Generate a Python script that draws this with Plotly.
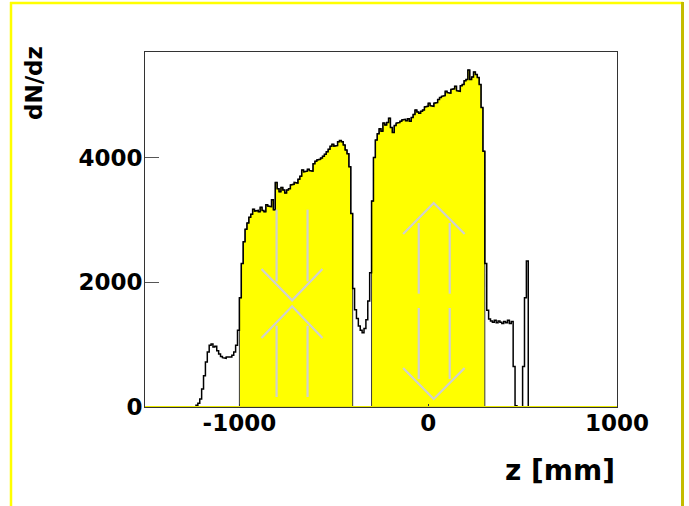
import plotly.graph_objects as go

# ---------------- data ----------------
BIN_START = -1250          # left edge of first bin [mm]
BIN_WIDTH = 10             # bin width [mm]
COUNTS = [
    # -1250 .. -1010
    0, 0, 30, 60, 130, 290, 500, 720, 880, 990,
    1010, 960, 975, 900, 850, 810, 790, 780, 800, 790,
    800, 830, 880, 990, 1230,
    # -1000 .. -410
    1750, 2300, 2650, 2850, 2950, 3040, 3090, 3170, 3140, 3150,
    3130, 3200, 3150, 3130, 3240, 3220, 3210, 3320, 3160, 3600,
    3500, 3450, 3520, 3480, 3430, 3480, 3500, 3560, 3570, 3600,
    3590, 3650, 3700, 3800, 3770, 3780, 3810, 3790, 3780, 3900,
    3940, 3960, 3970, 3990, 4020, 4050, 4090, 4130, 4180, 4210,
    4180, 4190, 4250, 4270, 4250, 4200, 4120, 4060, 3850, 3100,
    # -400 .. -310
    1900, 1560, 1420, 1300, 1230, 1190, 1260, 1400, 1700, 2150,
    # -300 .. 290
    3300, 4000, 4280, 4380, 4460, 4420, 4550, 4520, 4560, 4630,
    4480, 4400, 4510, 4550, 4560, 4580, 4600, 4610, 4590, 4620,
    4580, 4640, 4690, 4760, 4730, 4710, 4740, 4760, 4810, 4820,
    4870, 4830, 4820, 4870, 4880, 4930, 4960, 4980, 4990, 5060,
    5040, 5030, 5090, 5100, 5140, 5070, 5060, 5150, 5170, 5230,
    5250, 5400, 5250, 5290, 5370, 5330, 5280, 5170, 4800, 4100,
    # 300 .. 540
    2300, 1550, 1410, 1380, 1360, 1390, 1350, 1380, 1360, 1340,
    1370, 1350, 1390, 1340, 1370, 650, 20, 0, 0, 0,
    650, 1750, 2340, 0, 0,
]
YELLOW_RANGES = [(-1000, -400), (-300, 300)]
X_TICKS = [-1000, 0, 1000]
Y_TICKS = [0, 2000, 4000]
X_RANGE = [-1500, 1000]
Y_RANGE = [0, 5690]
X_TITLE = "z [mm]"
Y_TITLE = "dN/dz"

# decorative arrows (data units): list of polylines
ARROWS = [
    # left block: two pairs of converging arrows
    [(-803, 3163), (-803, 2013)], [(-639, 3163), (-639, 2013)],
    [(-883, 2212), (-721, 1709), (-560, 2212)],
    [(-803, 1303), (-803, 160)], [(-639, 1303), (-639, 160)],
    [(-883, 1106), (-721, 1613), (-560, 1106)],
    # right block: double arrow
    [(-50, 2950), (-50, 1816)], [(114, 2950), (114, 1816)],
    [(-50, 1587), (-50, 449)], [(114, 1587), (114, 449)],
    [(-133, 2773), (29, 3270), (193, 2773)],
    [(-133, 625), (29, 128), (193, 625)],
]

# ---------------- helpers ----------------
edges = [BIN_START + i * BIN_WIDTH for i in range(len(COUNTS) + 1)]


def step_path(lo, hi):
    sel = [i for i in range(len(COUNTS)) if edges[i] >= lo and edges[i + 1] <= hi]
    xs, ys = [edges[sel[0]]], [0]
    for i in sel:
        xs += [edges[i], edges[i + 1]]
        ys += [COUNTS[i], COUNTS[i]]
    xs.append(edges[sel[-1] + 1])
    ys.append(0)
    return xs, ys


# target plot area (window px): 145..617 x 52..407
W, H = 689, 506
ML, MT = 145, 52
PW, PH = 472, 355
MR = W - ML - PW
MB = H - MT - PH


def px(x):  # pixel x -> paper
    return (x - ML) / PW


def py(y):  # pixel y -> paper
    return (MT + PH - y) / PH


fig = go.Figure()

for lo, hi in YELLOW_RANGES:
    xs, ys = step_path(lo, hi)
    fig.add_trace(go.Scatter(x=xs, y=ys, mode="lines", fill="tozeroy",
                             fillcolor="#ffff00",
                             line=dict(color="#3a3a3a", width=1),
                             hoverinfo="skip", showlegend=False))

xs, ys = step_path(edges[0], edges[-1])
fig.add_trace(go.Scatter(x=xs, y=ys, mode="lines",
                         line=dict(color="black", width=1.5),
                         hoverinfo="skip", showlegend=False))

shapes = []
for poly in ARROWS:
    path = "M " + " L ".join(f"{x},{y}" for x, y in poly)
    shapes.append(dict(type="path", path=path, xref="x", yref="y",
                       line=dict(color="#d0d0d0", width=2.2), layer="above"))

# yellow baseline at zero
shapes.append(dict(type="line", xref="x", yref="y", x0=X_RANGE[0], x1=X_RANGE[1],
                   y0=0, y1=0, line=dict(color="#e8e800", width=2), layer="above"))

# pad border (ROOT-style bevel)
shapes += [
    dict(type="line", xref="paper", yref="paper", x0=px(11), x1=px(11), y0=py(2), y1=py(520),
         line=dict(color="#ffff00", width=2.5)),
    dict(type="line", xref="paper", yref="paper", x0=px(10), x1=px(683), y0=py(3), y1=py(3),
         line=dict(color="#ffff00", width=2.5)),
    dict(type="line", xref="paper", yref="paper", x0=px(682.5), x1=px(682.5), y0=py(2), y1=py(520),
         line=dict(color="#c4bc00", width=3)),
]

tickfont = dict(family="DejaVu Sans", size=23, color="black", weight="bold")

fig.update_layout(
    width=W, height=H,
    margin=dict(l=ML, r=MR, t=MT, b=MB, pad=0),
    paper_bgcolor="white", plot_bgcolor="white",
    shapes=shapes,
    xaxis=dict(range=X_RANGE, tickmode="array", tickvals=X_TICKS,
               ticktext=[str(v) for v in X_TICKS],
               ticks="inside", ticklen=3, tickcolor="#333333",
               showgrid=False, zeroline=False,
               showline=True, mirror=True, linecolor="#333333", linewidth=1,
               tickfont=tickfont, ticklabelstandoff=-5),
    yaxis=dict(range=Y_RANGE, tickmode="array", tickvals=Y_TICKS,
               ticktext=[str(v) for v in Y_TICKS],
               ticks="inside", ticklen=14, tickcolor="#555555",
               showgrid=False, zeroline=False,
               showline=True, mirror=True, linecolor="#333333", linewidth=1,
               tickfont=tickfont, ticklabelstandoff=-3),
    annotations=[
        dict(text=Y_TITLE, textangle=-90, xref="paper", yref="paper",
             x=px(34), y=py(44), xanchor="center", yanchor="top", showarrow=False,
             font=dict(family="DejaVu Sans", size=23, color="black", weight="bold")),
        dict(text=X_TITLE, xref="paper", yref="paper",
             x=px(617), y=py(470), xanchor="right", yanchor="middle", showarrow=False,
             font=dict(family="DejaVu Sans", size=28, color="black", weight="bold")),
    ],
)

fig.write_html("out.html", config={"displayModeBar": False},
               post_script="document.body.style.margin='0px';")
